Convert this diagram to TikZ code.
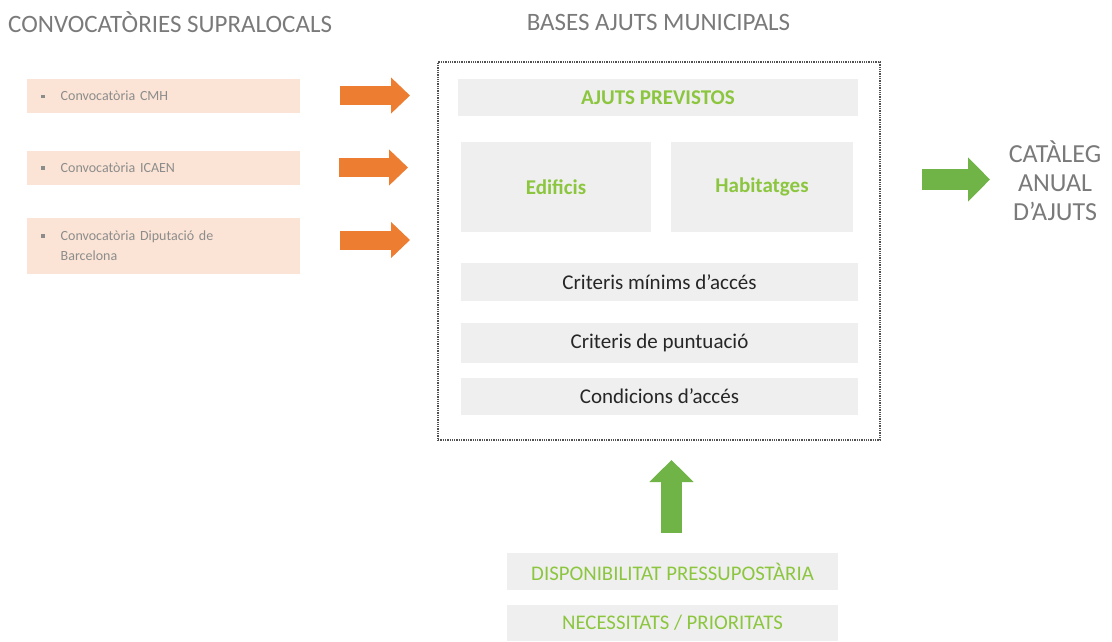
\documentclass[tikz,border=0pt]{standalone}
\usepackage{fontspec}
\setmainfont{Carlito}
\usepackage{tikz}
\usetikzlibrary{arrows.meta}
\usetikzlibrary{positioning}
\definecolor{titlegray}{HTML}{7A7A7A}
\definecolor{itemgray}{HTML}{8C8C8C}
\definecolor{peach}{HTML}{FBE4D5}
\definecolor{boxgray}{HTML}{EFEFEF}
\definecolor{darktext}{HTML}{262626}
\definecolor{arrorange}{HTML}{ED7D31}
\definecolor{arrgreen}{HTML}{70B347}
\definecolor{textgreen}{HTML}{8CC63F}
\tikzset{title/.style = {text = titlegray, font = \fontsize{25}{29}\selectfont, inner sep = 0},
  item/.style = {fill = peach, text = itemgray, font = \fontsize{14}{20}\selectfont,
    anchor = west, minimum height = 34, inner xsep = 14, inner ysep = 0, text width = 245, align = left},
  graybox/.style = {fill = boxgray, text = darktext, font = \fontsize{21}{24}\selectfont, inner sep = 0},
  greenbox/.style = {graybox, text = textgreen, font = \fontsize{20.8}{24}\selectfont},
  orangearr/.style = {draw = arrorange, line width = 19, -{Triangle[length = 19, width = 35]}},
  greenarr/.style = {draw = arrgreen, line width = 21, -{Triangle[length = 22, width = 43]}}}
\newcommand{\sqbullet}{\raisebox{2.5pt}{\textcolor{itemgray}{\rule{3.5pt}{3.5pt}}}}

\begin{document}
\begin{tikzpicture}[x = 1pt, y = -1pt]
      \useasboundingbox (0, 0) rectangle (1112, 641);

      \node [title, anchor = west] (supra) at (8, 22) {CONVOCATÒRIES SUPRALOCALS};
      \node [title] (bases) at (658.5, 22) {BASES AJUTS MUNICIPALS};

      \node [item] (cmh) at (27, 96) {\sqbullet\hspace{16pt}Convocatòria CMH};
      \node [item] (icaen) at (27, 167.5) {\sqbullet\hspace{16pt}Convocatòria ICAEN};
      \node [item, minimum height = 56] (dipu) at (27, 246)
        {\begin{tabular}{@{}l@{\hspace{16pt}}l@{}}\sqbullet & Convocatòria Diputació de\\ & Barcelona\end{tabular}};

      \node [draw = darktext!80, line width = 1.3, densely dotted, minimum width = 442, minimum height = 378] (frame) at (659, 251) {};

      \node [greenbox, font = \fontsize{21}{24}\selectfont\bfseries, minimum width = 400, minimum height = 37] (previstos) at (658, 97.5) {AJUTS PREVISTOS};
      \node [greenbox, font = \fontsize{21}{24}\selectfont\bfseries, minimum width = 190, minimum height = 90] (edificis) at (556, 187) {Edificis};
      \node [greenbox, font = \fontsize{21}{24}\selectfont\bfseries, minimum width = 182, minimum height = 90] (habitatges) at (762, 187) {Habitatges};
      \node [graybox, minimum width = 397, minimum height = 38] (minims) at (659.5, 282) {Criteris mínims d’accés};
      \node [graybox, minimum width = 397, minimum height = 40] (puntuacio) at (659.5, 343) {Criteris de puntuació};
      \node [graybox, minimum width = 397, minimum height = 37] (condicions) at (659.5, 396.5) {Condicions d’accés};

      \node [title, align = center, font = \fontsize{26}{29}\selectfont] (cataleg) at (1055, 181) {CATÀLEG\\ANUAL\\D’AJUTS};

      \node [greenbox, minimum width = 331, minimum height = 37] (disponibilitat) at (672.5, 571.5) {DISPONIBILITAT PRESSUPOSTÀRIA};
      \node [greenbox, minimum width = 331, minimum height = 36] (necessitats) at (672.5, 623) {NECESSITATS / PRIORITATS};

      % block arrows
      \coordinate (o1) at (340, 95.5);
      \coordinate (o2) at (339, 167.5);
      \coordinate (o3) at (340, 240);
      \draw [orangearr] (o1) -- (o1 -| 410, 0);
      \draw [orangearr] (o2) -- (o2 -| 408, 0);
      \draw [orangearr] (o3) -- (o3 -| 410, 0);

      \coordinate (g1) at (922, 179.5);
      \coordinate (g2) at (990, 179.5);
      \draw [greenarr] (g1) -- (g2);

      \coordinate (u1) at (671.5, 533);
      \coordinate (u2) at (671.5, 460);
      \draw [greenarr] (u1) -- (u2);
    \end{tikzpicture}
\end{document}
